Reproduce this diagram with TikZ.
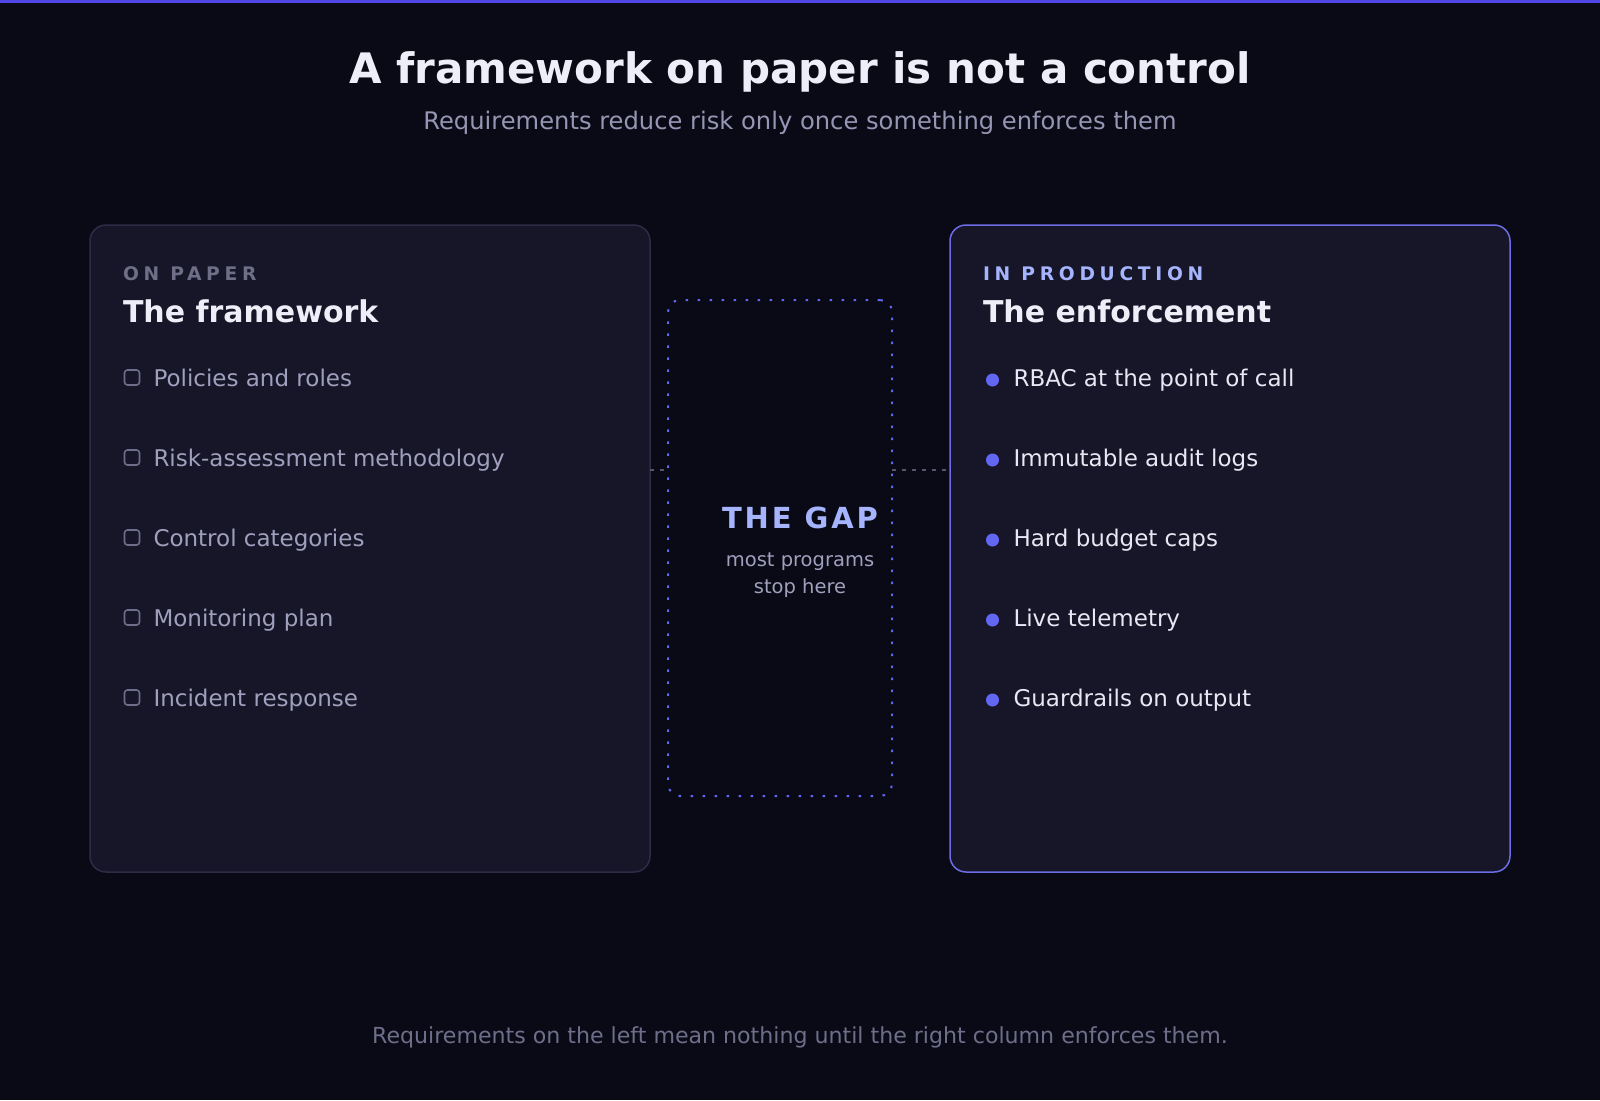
\documentclass[tikz,border=0pt]{standalone}
\usepackage{fontspec}
\setmainfont{DejaVu Sans}
\newfontfamily\trackfont[LetterSpace=25]{DejaVu Sans}
\newfontfamily\gapfont[LetterSpace=10]{DejaVu Sans}
\usetikzlibrary{positioning}
\definecolor{bgdark}{RGB}{10,10,22}
\definecolor{topbar}{RGB}{79,70,229}
\definecolor{cardfill}{RGB}{22,22,40}
\definecolor{paperedge}{RGB}{44,44,70}
\definecolor{prodedge}{RGB}{108,108,230}
\definecolor{titlewhite}{RGB}{238,238,248}
\definecolor{subgrey}{RGB}{150,150,180}
\definecolor{lowgrey}{RGB}{110,110,135}
\definecolor{lavender}{RGB}{165,180,252}
\definecolor{itemgrey}{RGB}{160,160,190}
\definecolor{itemwhite}{RGB}{232,232,244}
\definecolor{dotblue}{RGB}{99,102,241}
\definecolor{connectgrey}{RGB}{85,85,110}
\definecolor{footgrey}{RGB}{110,110,138}
\definecolor{chkedge}{RGB}{110,110,138}

\begin{document}
\begin{tikzpicture}[
  x=1pt,y=-1pt,
  every node/.style={inner sep=0pt,outer sep=0pt},
  card/.style={fill=cardfill,rounded corners=16pt,line width=1.5pt,
    minimum width=560pt,minimum height=647pt,anchor=north west},
  kicker/.style={anchor=base west,font=\trackfont\fontsize{18.7}{22}\selectfont\bfseries},
  head/.style={anchor=base west,text=titlewhite,
    font=\fontsize{30}{36}\selectfont\bfseries},
  item/.style={anchor=base west,font=\fontsize{23}{27}\selectfont},
  chk/.style={draw=chkedge,line width=1.6pt,rounded corners=3pt,minimum size=15pt},
  dot/.style={circle,fill=dotblue,minimum size=13pt},
  gapbox/.style={draw=dotblue,line width=2pt,rounded corners=12pt,
    dash pattern=on 2.5pt off 9.5pt,minimum width=224pt,minimum height=496pt},
  conn/.style={draw=connectgrey,line width=1.5pt,dash pattern=on 4pt off 6pt},
]
\fill[bgdark](0,0)rectangle(1600,1100);
\useasboundingbox(0,0)rectangle(1600,1100);
\fill[topbar](0,0)rectangle(1600,3);

% heading
\node[anchor=base,text=titlewhite,font=\fontsize{42}{50}\selectfont\bfseries](T)
  at(800,83.3){A framework on paper is not a control};
\node[anchor=base,text=subgrey,font=\fontsize{24.2}{28}\selectfont](S)
  at(800,129.3){Requirements reduce risk only once something enforces them};

% left card
\node[card,draw=paperedge](LC)at(90,225){};
\node[kicker,text=lowgrey](LK)at(123,280){ON PAPER};
\node[head](LH)at(123,322){The framework};
\node[item,text=itemgrey](L1)at(153.5,386){Policies and roles};
\node[item,text=itemgrey](L2)at([yshift=-80pt]L1.base west){Risk-assessment methodology};
\node[item,text=itemgrey](L3)at([yshift=-80pt]L2.base west){Control categories};
\node[item,text=itemgrey](L4)at([yshift=-80pt]L3.base west){Monitoring plan};
\node[item,text=itemgrey](L5)at([yshift=-80pt]L4.base west){Incident response};
\foreach \i in {1,...,5}
  \node[chk](C\i)at([xshift=-21.5pt,yshift=8.5pt]L\i.base west){};

% right card
\node[card,draw=prodedge](RC)at(950,225){};
\node[kicker,text=lavender](RK)at(983,280){IN PRODUCTION};
\node[head](RH)at(983,322){The enforcement};
\node[item,text=itemwhite](R1)at(1013.5,386){RBAC at the point of call};
\node[item,text=itemwhite](R2)at([yshift=-80pt]R1.base west){Immutable audit logs};
\node[item,text=itemwhite](R3)at([yshift=-80pt]R2.base west){Hard budget caps};
\node[item,text=itemwhite](R4)at([yshift=-80pt]R3.base west){Live telemetry};
\node[item,text=itemwhite](R5)at([yshift=-80pt]R4.base west){Guardrails on output};
\foreach \i in {1,...,5}
  \node[dot](B\i)at([xshift=-21pt,yshift=6pt]R\i.base west){};

% the gap
\node[gapbox](GB)at(780,548){};
\node[anchor=base,text=lavender,font=\gapfont\fontsize{29}{34}\selectfont\bfseries](GT)
  at(800,528.3){THE GAP};
\node[anchor=base,text=itemgrey,font=\fontsize{19.5}{24}\selectfont](G1)
  at(800,566){most programs};
\node[anchor=base,text=itemgrey,font=\fontsize{19.5}{24}\selectfont](G2)
  at(800,593.3){stop here};
\coordinate(mid)at(0,470);
\draw[conn](LC.east|-mid)--(GB.west|-mid);
\draw[conn](GB.east|-mid)--(RC.west|-mid);

\node[anchor=base,text=footgrey,font=\fontsize{22.1}{26}\selectfont](F)
  at(800,1043.3){Requirements on the left mean nothing until the right column enforces them.};
\end{tikzpicture}
\end{document}
